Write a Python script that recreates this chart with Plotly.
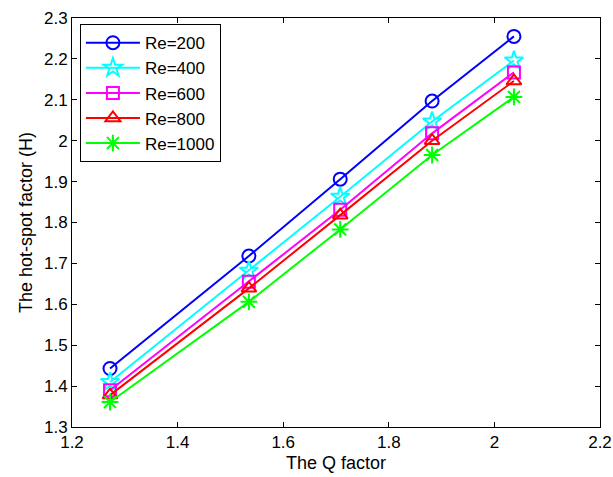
import plotly.graph_objects as go

# Q factor values (x) and hot-spot factor H for each Reynolds number
q_factor = [1.272, 1.535, 1.708, 1.882, 2.037]

h_re200 = [1.443, 1.718, 1.906, 2.097, 2.255]
h_re400 = [1.410, 1.682, 1.863, 2.047, 2.196]
h_re600 = [1.390, 1.655, 1.831, 2.018, 2.167]
h_re800 = [1.378, 1.639, 1.818, 2.000, 2.146]
h_re1000 = [1.361, 1.606, 1.783, 1.965, 2.107]

series_names = ["Re=200", "Re=400", "Re=600", "Re=800", "Re=1000"]
series_values = [h_re200, h_re400, h_re600, h_re800, h_re1000]
series_colors = ["#0000ff", "#00ffff", "#ff00ff", "#ff0000", "#00ff00"]
series_symbols = ["circle-open", "star-open", "square-open",
                  "triangle-up-open", "asterisk-open"]
series_sizes = [13, 14, 12, 13, 14]

x_ticks = [1.2, 1.4, 1.6, 1.8, 2.0, 2.2]
x_tick_text = ["1.2", "1.4", "1.6", "1.8", "2", "2.2"]
y_ticks = [1.3, 1.4, 1.5, 1.6, 1.7, 1.8, 1.9, 2.0, 2.1, 2.2, 2.3]
y_tick_text = ["1.3", "1.4", "1.5", "1.6", "1.7", "1.8", "1.9", "2", "2.1", "2.2", "2.3"]

FONT = "Liberation Sans, Arial, sans-serif"

fig = go.Figure()
for name, vals, col, sym, sz in zip(series_names, series_values, series_colors,
                                    series_symbols, series_sizes):
    fig.add_trace(go.Scatter(
        x=q_factor, y=vals, name=name, mode="lines+markers",
        line=dict(color=col, width=2),
        marker=dict(symbol=sym, size=sz, color=col,
                    line=dict(color=col, width=2)),
    ))

axis_common = dict(
    showgrid=False, zeroline=False, showline=True, linecolor="black",
    linewidth=1, mirror="ticks", ticks="inside", ticklen=5,
    tickcolor="black", tickwidth=1, automargin=False,
    tickfont=dict(family=FONT, size=17, color="black"),
)

fig.update_xaxes(
    range=[1.2, 2.2], tickvals=x_ticks, ticktext=x_tick_text,
    title=dict(text="The Q factor", font=dict(family=FONT, size=18, color="black"),
               standoff=4),
    **axis_common,
)
fig.update_yaxes(
    range=[1.3, 2.3], tickvals=y_ticks, ticktext=y_tick_text,
    title=dict(text="The hot-spot factor (H)",
               font=dict(family=FONT, size=18, color="black"), standoff=6),
    **axis_common,
)

fig.update_layout(
    width=613, height=477,
    margin=dict(l=72, r=13, t=18, b=50),
    paper_bgcolor="white", plot_bgcolor="white",
    font=dict(family=FONT, size=17, color="black"),
    showlegend=True,
    legend=dict(
        x=0.015, y=0.985, xanchor="left", yanchor="top",
        bgcolor="white", bordercolor="black", borderwidth=1,
        font=dict(family=FONT, size=17, color="black"),
        itemwidth=54, tracegroupgap=0,
    ),
)

fig.write_html("out.html")
